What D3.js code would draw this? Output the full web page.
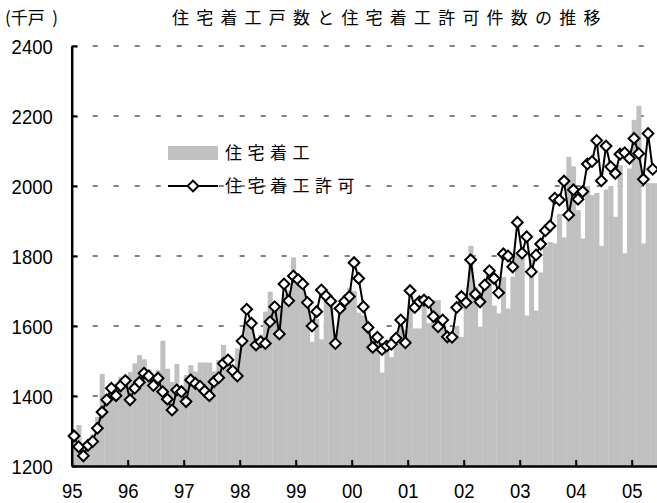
<!DOCTYPE html>
<html>
<head>
<meta charset="utf-8">
<script src="https://cdn.jsdelivr.net/npm/d3@7"></script>
<style>
  body { margin: 0; background: #fff; }
  svg { display: block; }
  .num { font-family: "Liberation Sans", Arial, sans-serif; font-size: 21px; fill: #000;
         transform-box: fill-box; }
  .ylab { transform: scaleX(0.88); transform-origin: right center; }
  .xlab { transform: scaleX(0.88); transform-origin: center center; }
  .jp { font-family: "Noto Sans CJK JP", sans-serif; font-size: 17px; fill: #000; }
</style>
</head>
<body>
<svg id="chart" width="657" height="503"></svg>
<script>
// year labels on the x axis (one tick per January)
const yearLabels = ["95", "96", "97", "98", "99", "00", "01", "02", "03", "04", "05"];
const yTicks = [1200, 1400, 1600, 1800, 2000, 2200, 2400];

// housing starts (bars), monthly from Jan 1995
const starts = [
  1290, 1317, 1250, 1270, 1290, 1340, 1463, 1380, 1400, 1420, 1455, 1440,
  1469, 1493, 1517, 1505, 1476, 1450, 1474, 1558, 1478, 1440, 1491, 1430,
  1460, 1488, 1470, 1496, 1496, 1495, 1470, 1503, 1546, 1510, 1480, 1536,
  1565, 1610, 1610, 1560, 1575, 1641, 1698, 1640, 1650, 1690, 1700, 1796,
  1740, 1700, 1660, 1555, 1620, 1562, 1680, 1660, 1580, 1650, 1680, 1708,
  1700, 1638, 1630, 1610, 1560, 1550, 1467, 1540, 1511, 1560, 1600, 1590,
  1650, 1593, 1593, 1669, 1608, 1674, 1674, 1620, 1565, 1580, 1600, 1569,
  1669, 1829, 1712, 1598, 1720, 1750, 1658, 1636, 1740, 1650, 1741, 1808,
  1800, 1630, 1790, 1644, 1753, 1827, 1840, 1836, 1920, 1853, 2083, 2056,
  1931, 1850, 2000, 1974, 1980, 1829, 1990, 2000, 1912, 2060, 1808, 2050,
  2189, 2229, 1836, 2008, 2008, 2008
];

// building permits (line with diamonds), monthly from Jan 1995
const permits = [
  1286, 1255, 1229, 1259, 1270, 1308, 1354, 1389, 1422, 1401, 1429, 1444,
  1389, 1422, 1439, 1465, 1457, 1430, 1451, 1412, 1391, 1360, 1417, 1412,
  1384, 1446, 1436, 1428, 1414, 1401, 1441, 1452, 1493, 1503, 1472, 1457,
  1557, 1648, 1608, 1546, 1555, 1550, 1612, 1655, 1577, 1720, 1672, 1743,
  1733, 1720, 1667, 1600, 1641, 1703, 1686, 1671, 1550, 1650, 1671, 1684,
  1781, 1736, 1655, 1596, 1539, 1568, 1533, 1543, 1548, 1565, 1617, 1552,
  1701, 1653, 1669, 1674, 1667, 1627, 1598, 1617, 1569, 1568, 1653, 1684,
  1667, 1789, 1691, 1669, 1717, 1758, 1736, 1695, 1806, 1800, 1769, 1896,
  1808, 1855, 1755, 1803, 1834, 1872, 1886, 1965, 1960, 2014, 1917, 1989,
  1962, 1984, 2063, 2070, 2130, 2015, 2114, 2055, 2036, 2091, 2095, 2079,
  2136, 2093, 2019, 2150, 2048
];

const svg = d3.select("#chart");
const W = 657;

const x = d3.scaleLinear().domain([0, 126]).range([71.7, 659.7]);
const y = d3.scaleLinear().domain([1200, 2400]).range([466, 46]);
const bw = x(1) - x(0);

// dashed gridlines (behind the bars)
svg.append("g")
  .selectAll("line")
  .data(yTicks.slice(1))
  .join("line")
  .attr("x1", x(0)).attr("x2", W)
  .attr("y1", d => y(d)).attr("y2", d => y(d))
  .attr("stroke", "#000")
  .attr("stroke-width", 1)
  .attr("stroke-dasharray", "5,16");

// bars
svg.append("g")
  .selectAll("rect")
  .data(starts)
  .join("rect")
  .attr("x", (d, i) => x(i))
  .attr("width", bw + 0.4)
  .attr("y", d => y(d))
  .attr("height", d => y(1200) - y(d))
  .attr("fill", "#c0c0c0");

// y axis
const yAxis = svg.append("g")
  .attr("transform", `translate(${x(0)},0)`)
  .call(d3.axisLeft(y).tickValues(yTicks).tickFormat(d3.format("d"))
    .tickSizeInner(-6).tickSizeOuter(0).tickPadding(19));

// x axis
const xAxis = svg.append("g")
  .attr("transform", `translate(0,${y(1200)})`)
  .call(d3.axisBottom(x)
    .tickValues(d3.range(0, 121, 12))
    .tickFormat((d, i) => yearLabels[i])
    .tickSizeInner(-6).tickSizeOuter(0).tickPadding(17));

[yAxis, xAxis].forEach(g => {
  g.select(".domain").attr("stroke-width", 2.5);
  g.selectAll(".tick line").attr("stroke-width", 2);
  g.selectAll("text").attr("font-family", null).attr("font-size", null);
});
yAxis.selectAll(".tick text").attr("class", "num ylab").attr("x", -19).attr("dy", "0.36em");
xAxis.selectAll(".tick text").attr("class", "num xlab");

// permits line
const line = d3.line()
  .x((d, i) => x(i + 0.5))
  .y(d => y(d));

svg.append("path")
  .datum(permits)
  .attr("fill", "none")
  .attr("stroke", "#000")
  .attr("stroke-width", 2)
  .attr("d", line);

const diamond = d3.symbol(d3.symbolSquare, 58);
svg.append("g")
  .selectAll("path")
  .data(permits)
  .join("path")
  .attr("d", diamond)
  .attr("transform", (d, i) => `translate(${x(i + 0.5)},${y(d)}) rotate(45)`)
  .attr("fill", "#fff")
  .attr("stroke", "#000")
  .attr("stroke-width", 2);

// titles
svg.append("text").attr("class", "jp").attr("x", 5).attr("y", 24)
  .attr("xml:space", "preserve").text("(千戸  )");
svg.append("text").attr("class", "jp").attr("x", 172).attr("y", 24)
  .attr("letter-spacing", 7.2)
  .text("住宅着工戸数と住宅着工許可件数の推移");

// legend
const lg = svg.append("g");
lg.append("rect").attr("x", 168).attr("y", 146).attr("width", 50).attr("height", 14).attr("fill", "#c0c0c0");
lg.append("text").attr("class", "jp").attr("x", 225).attr("y", 159).attr("letter-spacing", 5.5).text("住宅着工");
lg.append("line").attr("x1", 168).attr("x2", 218).attr("y1", 186).attr("y2", 186)
  .attr("stroke", "#000").attr("stroke-width", 2);
lg.append("path").attr("d", diamond)
  .attr("transform", "translate(193,186) rotate(45)")
  .attr("fill", "#fff").attr("stroke", "#000").attr("stroke-width", 2);
lg.append("text").attr("class", "jp").attr("x", 225).attr("y", 192).attr("letter-spacing", 5.5).text("住宅着工許可");
</script>
</body>
</html>
